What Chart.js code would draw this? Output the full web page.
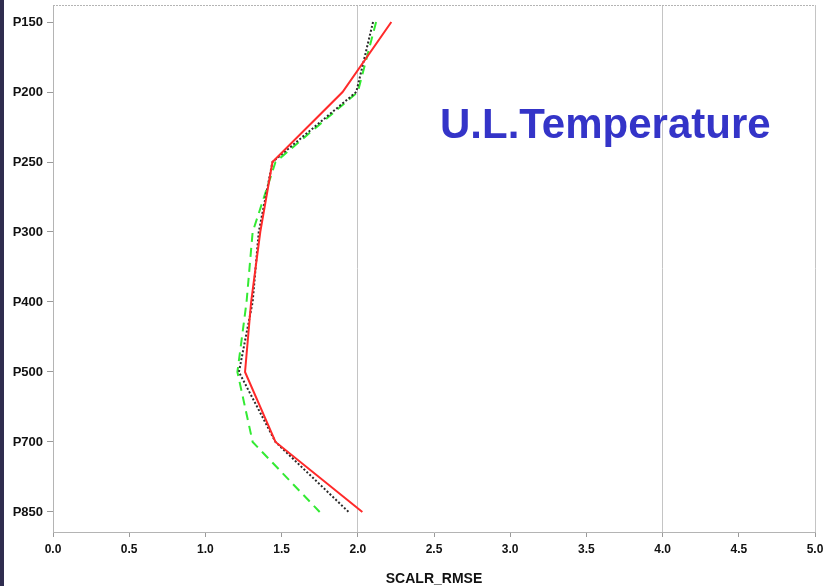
<!DOCTYPE html>
<html>
<head>
<meta charset="utf-8">
<title>U.L.Temperature</title>
<script src="https://cdn.jsdelivr.net/npm/chart.js@4.4.1/dist/chart.umd.min.js"></script>
<style>
    body { margin: 0; background: #ffffff; }
    canvas { display: block; }
</style>
</head>
<body>
<canvas id="rmseChart" width="825" height="586"></canvas>
<script>
// pressure levels, top to bottom
const levels = ['P150', 'P200', 'P250', 'P300', 'P400', 'P500', 'P700', 'P850'];

// SCALR_RMSE per level
const redSeries = [2.22, 1.90, 1.44, 1.36, 1.30, 1.26, 1.46, 2.03];
const blackSeries = [2.10, 1.99, 1.44, 1.35, 1.31, 1.22, 1.46, 1.94];
const greenSeries = [2.12, 2.00, 1.46, 1.31, 1.27, 1.21, 1.31, 1.75];

const xTicks = [0, 0.5, 1, 1.5, 2, 2.5, 3, 3.5, 4, 4.5, 5];
const xGridLines = [2, 4, 5];

const toPoints = (values) => values.map((v, i) => ({ x: v, y: i }));

// white page, dark strip on the left, frame and the big label
const decorations = {
    id: 'decorations',
    beforeDraw(chart) {
        const ctx = chart.ctx;
        ctx.save();
        ctx.fillStyle = '#ffffff';
        ctx.fillRect(0, 0, chart.width, chart.height);
        ctx.fillStyle = '#2f2d4f';
        ctx.fillRect(0, 0, 4, chart.height);
        ctx.restore();
    },
    afterDraw(chart) {
        const ctx = chart.ctx;
        const area = chart.chartArea;
        ctx.save();
        ctx.strokeStyle = '#b4b4b4';
        ctx.lineWidth = 1;
        ctx.setLineDash([2, 1]);
        ctx.beginPath();
        ctx.moveTo(area.left, area.top + 0.5);
        ctx.lineTo(area.right, area.top + 0.5);
        ctx.stroke();
        ctx.setLineDash([]);
        ctx.fillStyle = '#3434c8';
        ctx.font = 'bold 42px "Liberation Sans", Arial, sans-serif';
        ctx.textAlign = 'left';
        ctx.textBaseline = 'alphabetic';
        ctx.fillText('U.L.Temperature', 440, 138);
        ctx.restore();
    }
};

const ctx = document.getElementById('rmseChart').getContext('2d');
new Chart(ctx, {
    type: 'line',
    data: {
        datasets: [
            {
                label: 'red',
                data: toPoints(redSeries),
                borderColor: '#ff2a2a',
                borderWidth: 2,
                pointRadius: 0,
                fill: false
            },
            {
                label: 'black',
                data: toPoints(blackSeries),
                borderColor: '#2a2a2a',
                borderWidth: 2,
                borderDash: [2, 2],
                pointRadius: 0,
                fill: false
            },
            {
                label: 'green',
                data: toPoints(greenSeries),
                borderColor: '#33ea33',
                borderWidth: 2,
                borderDash: [9, 6],
                pointRadius: 0,
                fill: false
            }
        ]
    },
    options: {
        responsive: false,
        animation: false,
        layout: {
            padding: { left: 0, top: 5, right: 10, bottom: 0 }
        },
        plugins: {
            legend: { display: false },
            tooltip: { enabled: false }
        },
        scales: {
            x: {
                type: 'linear',
                min: 0,
                max: 5,
                afterFit: (scale) => {
                    scale.height = 54;
                    scale.paddingLeft = 0;
                    scale.paddingRight = 0;
                },
                afterBuildTicks: (scale) => {
                    scale.ticks = xTicks.map(v => ({ value: v }));
                },
                ticks: {
                    color: '#111111',
                    padding: 5,
                    font: { family: '"Liberation Sans", Arial, sans-serif', size: 12, weight: 'bold' },
                    callback: (v) => Number(v).toFixed(1)
                },
                grid: {
                    color: (c) => xGridLines.includes(c.tick && c.tick.value) ? '#c4c4c4' : 'rgba(0,0,0,0)',
                    tickColor: '#9a9a9a',
                    tickLength: 5
                },
                border: { color: '#b4b4b4' },
                title: {
                    display: true,
                    text: 'SCALR_RMSE',
                    color: '#111111',
                    padding: { top: 0, bottom: 0 },
                    font: { family: '"Liberation Sans", Arial, sans-serif', size: 14, weight: 'bold', lineHeight: 1 }
                }
            },
            y: {
                type: 'linear',
                reverse: true,
                min: -0.243,
                max: 7.286,
                afterFit: (scale) => {
                    scale.width = 53;
                    scale.paddingTop = 0;
                    scale.paddingBottom = 0;
                },
                afterBuildTicks: (scale) => {
                    scale.ticks = levels.map((_, i) => ({ value: i }));
                },
                ticks: {
                    color: '#111111',
                    padding: 4,
                    font: { family: '"Liberation Sans", Arial, sans-serif', size: 13, weight: 'bold' },
                    callback: (v) => levels[v] || ''
                },
                grid: {
                    drawOnChartArea: false,
                    tickColor: '#9a9a9a',
                    tickLength: 6
                },
                border: { color: '#b4b4b4' }
            }
        }
    },
    plugins: [decorations]
});
</script>
</body>
</html>
